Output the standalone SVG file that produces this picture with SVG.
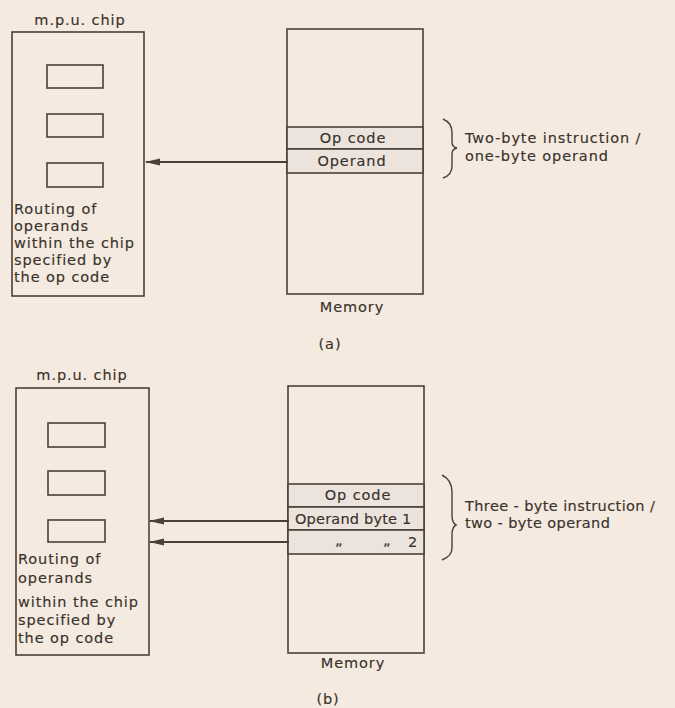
<svg xmlns="http://www.w3.org/2000/svg" width="675" height="708" viewBox="0 0 675 708">
<defs>
<marker id="ah" markerWidth="15" markerHeight="9" refX="14" refY="4.5" orient="auto" markerUnits="userSpaceOnUse">
<path d="M15,4.5 L0,1 L0,8 Z" fill="#4a4038"/>
</marker>
</defs>
<style>
.box{fill:none;stroke:#4a4038;stroke-width:1.6}
.reg{fill:none;stroke:#4a4038;stroke-width:1.6}
.row{fill:#ece4dc;stroke:#4a4038;stroke-width:1.6}
.t{font-family:"DejaVu Sans",sans-serif;font-size:14.5px;letter-spacing:0.9px;fill:#3a322c;stroke:#3a322c;stroke-width:0.15}
.c{text-anchor:middle}
.con{stroke:#4a4038;stroke-width:2;fill:none}
.br{stroke:#4a4038;stroke-width:1.4;fill:none}
</style>
<rect width="675" height="708" fill="#f4eae0"/>

<g id="chip-a">
<text class="t c" x="80" y="25">m.p.u. chip</text>
<rect class="box" x="12" y="32" width="132" height="264"/>
<rect class="reg" x="47" y="65" width="56" height="23"/>
<rect class="reg" x="47" y="114" width="56" height="23"/>
<rect class="reg" x="47" y="163" width="56" height="24"/>
<text class="t" x="14" y="214">Routing of</text>
<text class="t" x="14" y="231">operands</text>
<text class="t" x="14" y="248">within the chip</text>
<text class="t" x="14" y="265">specified by</text>
<text class="t" x="14" y="282">the op code</text>
</g>

<g id="memory-a">
<rect class="box" x="287" y="29" width="136" height="265"/>
<rect class="row" x="287" y="127" width="136" height="22"/>
<rect class="row" x="287" y="149" width="136" height="24"/>
<text class="t c" x="353" y="143">Op code</text>
<text class="t c" x="352" y="166">Operand</text>
<text class="t c" x="352" y="312">Memory</text>
</g>

<g id="brace-a">
<path class="br" d="M443,119 Q452,123 452,132 L452,142 Q452,147 457,148 Q452,149 452,154 L452,166 Q452,175 443,178"/>
<text class="t" x="465" y="143">Two-byte instruction /</text>
<text class="t" x="465" y="161">one-byte operand</text>
</g>

<text class="t c" x="330" y="349">(a)</text>

<g id="chip-b">
<text class="t c" x="82" y="380">m.p.u. chip</text>
<rect class="box" x="16" y="388" width="133" height="267"/>
<rect class="reg" x="48" y="423" width="57" height="24"/>
<rect class="reg" x="48" y="471" width="57" height="24"/>
<rect class="reg" x="48" y="520" width="57" height="22"/>
<text class="t" x="18" y="564">Routing of</text>
<text class="t" x="18" y="583">operands</text>
<text class="t" x="18" y="607">within the chip</text>
<text class="t" x="18" y="625">specified by</text>
<text class="t" x="18" y="643">the op code</text>
</g>

<g id="memory-b">
<rect class="box" x="288" y="386" width="136" height="267"/>
<rect class="row" x="288" y="484" width="136" height="23"/>
<rect class="row" x="288" y="507" width="136" height="23"/>
<rect class="row" x="288" y="530" width="136" height="24"/>
<text class="t c" x="358" y="500">Op code</text>
<text class="t" x="295" y="524" style="letter-spacing:0.2px">Operand byte 1</text>
<text class="t" x="335" y="545">„</text>
<text class="t" x="383" y="545">„</text>
<text class="t" x="408" y="547">2</text>
<text class="t c" x="353" y="668">Memory</text>
</g>

<g id="brace-b">
<path class="br" d="M442,475 Q452,480 452,492 L452,515 Q452,523 456,525 Q452,527 452,535 L452,548 Q452,556 442,560"/>
<text class="t" x="465" y="511" style="letter-spacing:0.4px">Three - byte instruction /</text>
<text class="t" x="465" y="528" style="letter-spacing:0.4px">two - byte operand</text>
</g>

<text class="t c" x="328" y="704">(b)</text>

<g id="connectors">
<line class="con" x1="288" y1="162" x2="146" y2="162" marker-end="url(#ah)"/>
<line class="con" x1="289" y1="521" x2="150" y2="521" marker-end="url(#ah)"/>
<line class="con" x1="289" y1="542" x2="150" y2="542" marker-end="url(#ah)"/>
</g>
</svg>
